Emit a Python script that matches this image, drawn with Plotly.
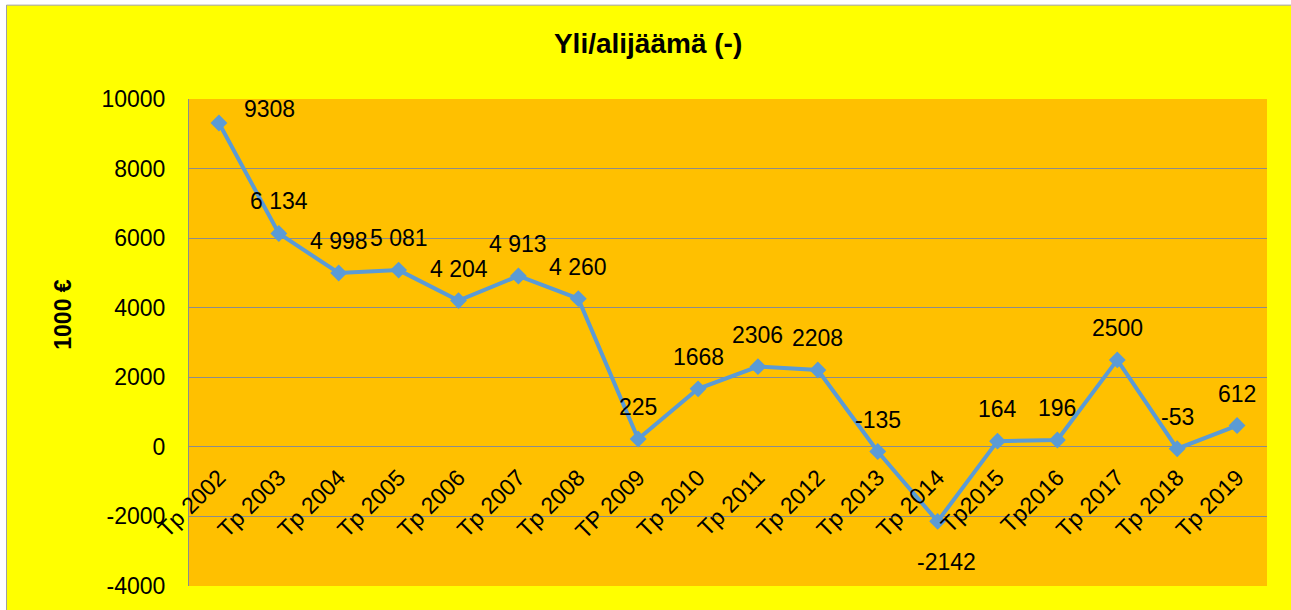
import plotly.graph_objects as go

# Data
vuodet = ["Tp 2002", "Tp 2003", "Tp 2004", "Tp 2005", "Tp 2006", "Tp 2007",
          "Tp 2008", "TP 2009", "Tp 2010", "Tp 2011", "Tp 2012", "Tp 2013",
          "Tp 2014", "Tp2015", "Tp2016", "Tp 2017", "Tp 2018", "Tp 2019"]
ylijaama = [9308, 6134, 4998, 5081, 4204, 4913, 4260, 225, 1668,
            2306, 2208, -135, -2142, 164, 196, 2500, -53, 612]
arvo_tekstit = ["9308", "6 134", "4 998", "5 081", "4 204", "4 913", "4 260",
                "225", "1668", "2306", "2208", "-135", "-2142", "164", "196",
                "2500", "-53", "612"]
y_tikit = [-4000, -2000, 0, 2000, 4000, 6000, 8000, 10000]
y_tikkitekstit = ["-4000", "-2000", "0", "2000", "4000", "6000", "8000", "10000"]

y_min, y_max = -4000, 10000
FONT = "Liberation Sans, Arial, sans-serif"

fig = go.Figure()

fig.add_trace(go.Scatter(
    x=vuodet,
    y=ylijaama,
    mode='lines+markers',
    line=dict(color='#5B9BD5', width=4),
    marker=dict(symbol='diamond', size=13, color='#5B9BD5'),
    cliponaxis=False,
    showlegend=False
))

# value labels: most sit above the point, two were moved by hand
siirrot = {0: (51, 14), 12: (9, -41)}
for i, (kat, arvo, teksti) in enumerate(zip(vuodet, ylijaama, arvo_tekstit)):
    dx, dy = siirrot.get(i, (0, 32))
    fig.add_annotation(x=kat, y=arvo, text=teksti, showarrow=False,
                       xshift=dx, yshift=dy, xanchor='center', yanchor='middle',
                       font=dict(size=23, color='black', family=FONT))

# y axis title
fig.add_annotation(xref='paper', yref='paper', x=-0.1169, y=0.559,
                   text='<b>1000 €</b>', textangle=-90, showarrow=False,
                   xanchor='center', yanchor='middle',
                   font=dict(size=23, color='black', family=FONT))

# white edge + thin grey frame of the chart box
fig.add_shape(type='rect', xref='paper', yref='paper', x0=-0.3, x1=1.2,
              y0=(586 - 5.5) / 486.7, y1=1.3, fillcolor='white', line_width=0)
fig.add_shape(type='rect', xref='paper', yref='paper', x0=-0.3,
              x1=(6 - 189) / 1078, y0=-0.3, y1=1.3, fillcolor='white', line_width=0)
fig.add_shape(type='rect', xref='paper', yref='paper',
              x0=(6.5 - 189) / 1078, x1=1.2, y0=-0.3, y1=(586 - 5.5) / 486.7,
              fillcolor='rgba(0,0,0,0)', line=dict(color='#A0A0A0', width=1))

fig.update_layout(
    width=1291, height=610,
    margin=dict(l=189, r=24, t=99, b=24),
    paper_bgcolor='#FFFF00',
    plot_bgcolor='#FFC000',
    font=dict(family=FONT, size=23, color='black'),
    title=dict(text='<b>Yli/alijäämä (-)</b>', x=0.502, xanchor='center',
               y=1 - 43 / 610, yanchor='middle',
               font=dict(size=28, color='black', family=FONT)),
    xaxis=dict(
        type='category',
        range=[-0.5, len(vuodet) - 0.5],
        anchor='free',
        position=(0 - y_min) / (y_max - y_min),
        showgrid=False, showline=False, zeroline=False,
        tickangle=-45,
        ticks='outside', ticklen=7, tickcolor='rgba(0,0,0,0)',
        tickfont=dict(size=23, color='black', family=FONT),
    ),
    yaxis=dict(
        range=[y_min, y_max],
        tickvals=y_tikit, ticktext=y_tikkitekstit,
        showgrid=True, gridcolor='#8C8C8C', gridwidth=1,
        zeroline=False,
        showline=True, linecolor='#8C8C8C', linewidth=1,
        ticks='outside', ticklen=18, tickcolor='rgba(0,0,0,0)',
        tickfont=dict(size=23, color='black', family=FONT),
    ),
)

fig.write_html("out.html", config={'displayModeBar': False},
               post_script="document.body.style.margin='0';")
